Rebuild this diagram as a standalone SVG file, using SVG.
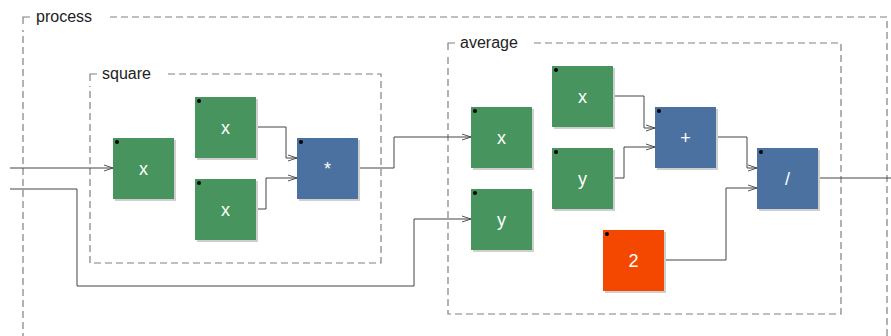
<svg xmlns="http://www.w3.org/2000/svg" width="891" height="336" viewBox="0 0 891 336">
  <defs>
    <marker id="arrow" markerWidth="12" markerHeight="8" refX="10" refY="4" orient="auto" markerUnits="userSpaceOnUse">
      <path d="M1,1 L10,4 L1,7" fill="none" stroke="#444" stroke-width="0.9"/>
    </marker>
  </defs>
  <style>
    .grp { fill: none; stroke: #808080; stroke-width: 1.2; stroke-dasharray: 7,4; }
    .corner { fill: none; stroke: #808080; stroke-width: 1.2; }
    .glabel { font-family: "Liberation Sans", Arial, sans-serif; font-size: 16px; fill: #222; }
    .shadow { fill: #cfcfcf; }
    .slot { fill: #47945E; }
    .op { fill: #4B71A1; }
    .num { fill: #F44800; }
    .dot { fill: #000; }
    .ntext { font-family: "Liberation Sans", Arial, sans-serif; font-size: 18px; fill: #fff; text-anchor: middle; dominant-baseline: central; }
    .wire { fill: none; stroke: #444; stroke-width: 1; }
  </style>
  <rect width="891" height="336" fill="#fff"/>

  <!-- group frames -->
  <g id="process">
    <path class="grp" d="M110,17 H887 V340 M23,340 V30"/>
    <path class="corner" d="M23,24 V17 H30"/>
    <text class="glabel" x="36" y="22">process</text>
  </g>
  <g id="square">
    <path class="grp" d="M168,74 H381 V263 H90 V86"/>
    <path class="corner" d="M90,81 V74 H97"/>
    <text class="glabel" x="102" y="79">square</text>
  </g>
  <g id="average">
    <path class="grp" d="M534,43 H841 V314 H448 V55"/>
    <path class="corner" d="M448,50 V43 H455"/>
    <text class="glabel" x="460" y="48">average</text>
  </g>

  <!-- connectors -->
  <g id="connectors">
    <path class="wire" d="M10,168 H113" marker-end="url(#arrow)"/>
    <path class="wire" d="M10,189 H77 V286 H414 V219 H471" marker-end="url(#arrow)"/>
    <path class="wire" d="M255,127 H286 V158 H297" marker-end="url(#arrow)"/>
    <path class="wire" d="M255,209 H266 V178 H297" marker-end="url(#arrow)"/>
    <path class="wire" d="M358,168 H394 V137 H471" marker-end="url(#arrow)"/>
    <path class="wire" d="M614,96 H644 V128 H655" marker-end="url(#arrow)"/>
    <path class="wire" d="M614,178 H624 V147 H655" marker-end="url(#arrow)"/>
    <path class="wire" d="M715,137 H747 V168 H757" marker-end="url(#arrow)"/>
    <path class="wire" d="M664,260 H726 V188 H757" marker-end="url(#arrow)"/>
    <path class="wire" d="M818,178 H891"/>
  </g>

  <!-- nodes -->
  <g id="sq-x">
    <rect class="shadow" x="115" y="140" width="61" height="61"/>
    <rect class="slot" x="113" y="138" width="61" height="61"/>
    <circle class="dot" cx="117" cy="142" r="2"/>
    <text class="ntext" x="143.5" y="168.5">x</text>
  </g>
  <g id="sq-x1">
    <rect class="shadow" x="197" y="99" width="61" height="61"/>
    <rect class="slot" x="195" y="97" width="61" height="61"/>
    <circle class="dot" cx="199" cy="101" r="2"/>
    <text class="ntext" x="225.5" y="127.5">x</text>
  </g>
  <g id="sq-x2">
    <rect class="shadow" x="197" y="181" width="61" height="61"/>
    <rect class="slot" x="195" y="179" width="61" height="61"/>
    <circle class="dot" cx="199" cy="183" r="2"/>
    <text class="ntext" x="225.5" y="209.5">x</text>
  </g>
  <g id="mul">
    <rect class="shadow" x="299" y="140" width="61" height="61"/>
    <rect class="op" x="297" y="138" width="61" height="61"/>
    <circle class="dot" cx="301" cy="142" r="2"/>
    <text class="ntext" x="327.5" y="168.5">*</text>
  </g>
  <g id="avg-x">
    <rect class="shadow" x="473" y="109" width="61" height="61"/>
    <rect class="slot" x="471" y="107" width="61" height="61"/>
    <circle class="dot" cx="475" cy="111" r="2"/>
    <text class="ntext" x="501.5" y="137.5">x</text>
  </g>
  <g id="avg-y">
    <rect class="shadow" x="473" y="191" width="61" height="61"/>
    <rect class="slot" x="471" y="189" width="61" height="61"/>
    <circle class="dot" cx="475" cy="193" r="2"/>
    <text class="ntext" x="501.5" y="219.5">y</text>
  </g>
  <g id="avg-x1">
    <rect class="shadow" x="554" y="68" width="61" height="61"/>
    <rect class="slot" x="552" y="66" width="61" height="61"/>
    <circle class="dot" cx="556" cy="70" r="2"/>
    <text class="ntext" x="582.5" y="96.5">x</text>
  </g>
  <g id="avg-y1">
    <rect class="shadow" x="554" y="150" width="61" height="61"/>
    <rect class="slot" x="552" y="148" width="61" height="61"/>
    <circle class="dot" cx="556" cy="152" r="2"/>
    <text class="ntext" x="582.5" y="178.5">y</text>
  </g>
  <g id="add">
    <rect class="shadow" x="657" y="109" width="61" height="61"/>
    <rect class="op" x="655" y="107" width="61" height="61"/>
    <circle class="dot" cx="659" cy="111" r="2"/>
    <text class="ntext" x="685.5" y="137.5">+</text>
  </g>
  <g id="div">
    <rect class="shadow" x="759" y="150" width="61" height="61"/>
    <rect class="op" x="757" y="148" width="61" height="61"/>
    <circle class="dot" cx="761" cy="152" r="2"/>
    <text class="ntext" x="787.5" y="178.5">/</text>
  </g>
  <g id="two">
    <rect class="shadow" x="605" y="232" width="61" height="61"/>
    <rect class="num" x="603" y="230" width="61" height="61"/>
    <circle class="dot" cx="607" cy="234" r="2"/>
    <text class="ntext" x="633.5" y="260.5">2</text>
  </g>
</svg>
